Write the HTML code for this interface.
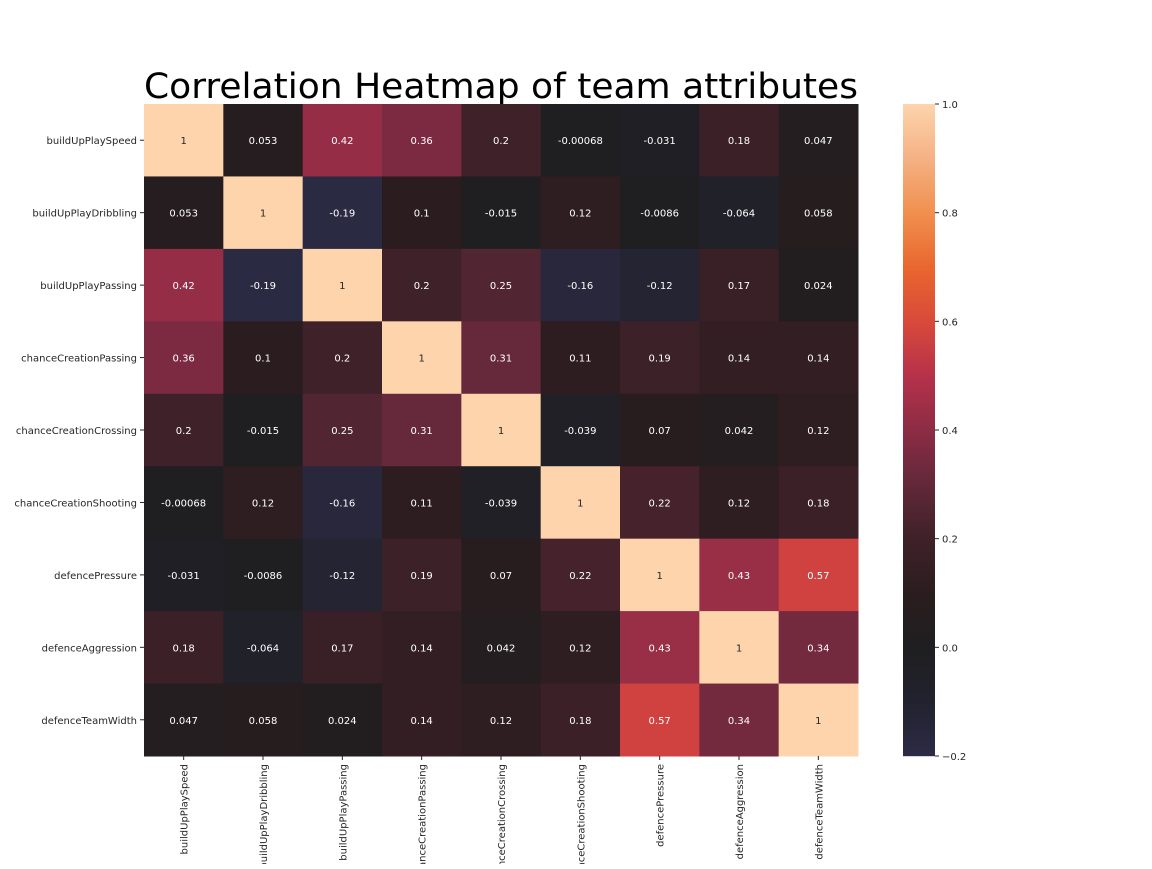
<!DOCTYPE html>
<html><head><meta charset="utf-8"><style>
body{margin:0;background:#fff;width:1152px;height:864px;overflow:hidden}
svg{font-family:"DejaVu Sans","Liberation Sans",sans-serif}
</style></head><body>
<svg id="chart" width="1152" height="864">
<text x="144" y="98" font-size="35" fill="#000" textLength="714" lengthAdjust="spacingAndGlyphs">Correlation Heatmap of team attributes</text>
<g id="cells"></g><g id="labels"></g><g id="cbar"></g>
</svg>
<script>
const categories=["buildUpPlaySpeed","buildUpPlayDribbling","buildUpPlayPassing","chanceCreationPassing","chanceCreationCrossing","chanceCreationShooting","defencePressure","defenceAggression","defenceTeamWidth"];
const row0=[1,0.053,0.42,0.36,0.2,-0.00068,-0.031,0.18,0.047];
const row1=[0.053,1,-0.19,0.1,-0.015,0.12,-0.0086,-0.064,0.058];
const row2=[0.42,-0.19,1,0.2,0.25,-0.16,-0.12,0.17,0.024];
const row3=[0.36,0.1,0.2,1,0.31,0.11,0.19,0.14,0.14];
const row4=[0.2,-0.015,0.25,0.31,1,-0.039,0.07,0.042,0.12];
const row5=[-0.00068,0.12,-0.16,0.11,-0.039,1,0.22,0.12,0.18];
const row6=[-0.031,-0.0086,-0.12,0.19,0.07,0.22,1,0.43,0.57];
const row7=[0.18,-0.064,0.17,0.14,0.042,0.12,0.43,1,0.34];
const row8=[0.047,0.058,0.024,0.14,0.12,0.18,0.57,0.34,1];
const matrix=[row0,row1,row2,row3,row4,row5,row6,row7,row8];
const cbarTicks=[-0.2,0.0,0.2,0.4,0.6,0.8,1.0];
const vmin=-0.2,vmax=1.0;
const stops=[[-0.2,"#2c2b45"],[-0.1,"#22222f"],[0,"#1f1e20"],[0.1,"#2b1d1f"],[0.2,"#3f2129"],[0.3,"#62283a"],[0.4,"#8d2c45"],[0.5,"#b6314a"],[0.6,"#d94a3a"],[0.7,"#e9672e"],[0.8,"#f0904f"],[0.9,"#f5b184"],[1.0,"#fdd4ac"]];
function hex(h){return [1,3,5].map(i=>parseInt(h.substr(i,2),16));}
function color(v){v=Math.max(vmin,Math.min(vmax,v));for(let i=0;i<stops.length-1;i++){const[a,ca]=stops[i],[b,cb]=stops[i+1];if(v<=b){const t=(v-a)/(b-a),x=hex(ca),y=hex(cb);return "rgb("+x.map((c,k)=>Math.round(c+(y[k]-c)*t)).join(",")+")";}}return stops[stops.length-1][1];}
const X0=144,Y0=104,W=714,H=652,n=categories.length,cw=W/n,ch=H/n;
const xPos=i=>X0+i*cw, yPos=j=>Y0+j*ch;
const NS="http://www.w3.org/2000/svg";
function mk(t,a,p){const e=document.createElementNS(NS,t);for(const k in a)e.setAttribute(k,a[k]);p.appendChild(e);return e;}
const cells=document.getElementById('cells'),labels=document.getElementById('labels'),cbar=document.getElementById('cbar');
matrix.forEach((row,j)=>row.forEach((v,i)=>{
 const r=mk('rect',{x:xPos(i),y:yPos(j),width:cw+0.5,height:ch+0.5,fill:color(v)},cells);
 
 
 const t=mk('text',{x:xPos(i)+cw/2,y:yPos(j)+ch/2+4,'font-size':10,'text-anchor':'middle',fill:v>0.7?'#262626':'#fff'},cells);
 t.textContent=String(v);
 
 
}));
categories.forEach((c,k)=>{
 const t=mk('text',{x:X0-7,y:yPos(k)+ch/2+4,'font-size':10,'text-anchor':'end',fill:'#262626'},labels);
 t.textContent=c;
 
 
 mk('line',{x1:X0-4,x2:X0,y1:yPos(k)+ch/2,y2:yPos(k)+ch/2,stroke:'#262626'},labels);
 const cx=xPos(k)+cw/2;
 mk('line',{x1:cx,x2:cx,y1:Y0+H,y2:Y0+H+4,stroke:'#262626'},labels);
 const u=mk('text',{x:0,y:0,'font-size':10,'text-anchor':'end',fill:'#262626',transform:'translate('+(cx+4)+','+(Y0+H+8)+') rotate(-90)'},labels);
 u.textContent=c;
 
 
});
const CX=903,CW=32;
const cy=v=>Y0+H-(v-vmin)/(vmax-vmin)*H;
for(let p=0;p<H;p++){const v=vmin+(H-p-0.5)/H*(vmax-vmin);mk('rect',{x:CX,y:Y0+p,width:CW,height:1.2,fill:color(v)},cbar);}
cbarTicks.forEach(v=>{
 mk('line',{x1:CX+CW,x2:CX+CW+4,y1:cy(v),y2:cy(v),stroke:'#262626'},cbar);
 const t=mk('text',{x:CX+CW+7,y:cy(v)+4,'font-size':10,fill:'#262626'},cbar);
 t.textContent=(v<0?'\u2212':'')+Math.abs(v).toFixed(1);
 
 
});


</script>
</body></html>
